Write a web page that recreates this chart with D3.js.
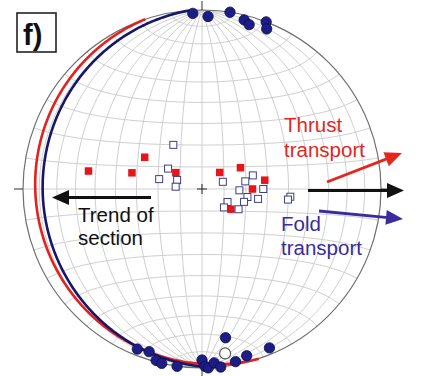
<!DOCTYPE html>
<html>
<head>
<meta charset="utf-8">
<script src="https://cdn.jsdelivr.net/npm/d3@7"></script>
<style>
  html, body { margin: 0; padding: 0; background: #fff; }
  svg { display: block; font-family: "Liberation Sans", Arial, sans-serif; }
</style>
</head>
<body>
<svg id="chart" width="427" height="376"></svg>
<script>
// Lower-hemisphere equal-area (Schmidt) net. Lines are [trend, plunge] in degrees.
const foldHinges = [
  [357, 2], [2, 4], [9, 0], [14, 3], [16, 5], [21, 0], [22, 4],
  [202, 4], [198, 5], [195, 1], [193, 0], [188, 0], [180, 5], [179, 1],
  [178, 0], [176, 3], [174, 0], [171, 17], [169, 2], [165, 4], [157, 4]
];
const meanHinge = [[172, 8]];
const thrustLineations = [
  [302, 76], [279, 36], [283, 57], [299, 60], [47, 79], [61, 70],
  [82, 61], [90, 67], [125, 74]
];
const foldVergence = [
  [327, 66], [301, 72], [283, 70], [290, 78], [275, 78],
  [71, 80], [75, 66], [80, 70], [92, 73], [90, 62], [100, 69], [100, 64],
  [117, 77], [130, 77], [119, 71], [107, 70], [95, 49], [97, 50]
];
// Planes as dip direction / dip
const planeDipDirection = [251.5, 266];
const planeDip = [8, 12];
const planeColors = ["#e3211e", "#16166a"];

const labelSection = ["Trend of", "section"];
const labelThrust = ["Thrust", "transport"];
const labelFold = ["Fold", "transport"];
const panelLabel = "f)";

const svg = d3.select("#chart");
const cx = 202, cy = 189, R = 179;
const rad = Math.PI / 180;

const proj = d3.geoAzimuthalEqualArea()
  .rotate([0, 0, 0])
  .scale(R / Math.SQRT2)
  .translate([cx, cy])
  .clipAngle(90)
  .precision(0.1);
const path = d3.geoPath(proj);

// trend/plunge -> lon/lat on a sphere viewed looking straight down
function lineToGeo([trend, plunge]) {
  const t = trend * rad, p = plunge * rad;
  const down = Math.sin(p);
  const north = Math.cos(p) * Math.cos(t);
  const east = Math.cos(p) * Math.sin(t);
  return [Math.atan2(east, down) / rad, Math.asin(Math.max(-1, Math.min(1, north))) / rad];
}

// graticule (10 degree net)
const graticule = d3.geoGraticule().extent([[-180, -90], [180, 90]]).step([10, 10]);
svg.append("path")
  .datum(graticule())
  .attr("d", path)
  .attr("fill", "none")
  .attr("stroke", "#cfcfcf")
  .attr("stroke-width", 1);

// primitive circle
svg.append("circle")
  .attr("cx", cx).attr("cy", cy).attr("r", R)
  .attr("fill", "none").attr("stroke", "#6e6e6e").attr("stroke-width", 1.2);

// ticks at N, S, W, E and centre cross
const tickLen = 9;
[[0, -1], [0, 1], [-1, 0], [1, 0]].forEach(([ux, uy]) => {
  svg.append("line")
    .attr("x1", cx + ux * R).attr("y1", cy + uy * R)
    .attr("x2", cx + ux * (R + tickLen)).attr("y2", cy + uy * (R + tickLen))
    .attr("stroke", "#333").attr("stroke-width", 1);
});
svg.append("path")
  .attr("d", `M${cx - 5},${cy}H${cx + 5}M${cx},${cy - 5}V${cy + 5}`)
  .attr("stroke", "#222").attr("stroke-width", 1);

// great circles
planeDipDirection.forEach((dd, i) => {
  const pole = lineToGeo([(dd + 180) % 360, 90 - planeDip[i]]);
  const ring = d3.geoCircle().center(pole).radius(90).precision(0.5)().coordinates[0];
  svg.append("path")
    .datum({ type: "LineString", coordinates: ring })
    .attr("d", path)
    .attr("fill", "none")
    .attr("stroke", planeColors[i])
    .attr("stroke-width", 2.6);
});

// mean hinge (open circle)
svg.selectAll("circle.mean")
  .data(meanHinge).enter().append("circle")
  .attr("class", "mean")
  .attr("cx", d => proj(lineToGeo(d))[0])
  .attr("cy", d => proj(lineToGeo(d))[1])
  .attr("r", 5.5)
  .attr("fill", "#fff").attr("stroke", "#555").attr("stroke-width", 1.2);

// fold hinges (filled navy circles)
svg.selectAll("circle.hinge")
  .data(foldHinges).enter().append("circle")
  .attr("class", "hinge")
  .attr("cx", d => proj(lineToGeo(d))[0])
  .attr("cy", d => proj(lineToGeo(d))[1])
  .attr("r", 5.2)
  .attr("fill", "#1d1d86").attr("stroke", "#0c0c4a").attr("stroke-width", 0.8);

// thrust lineations (red squares)
const rs = 7.5;
svg.selectAll("rect.thrust")
  .data(thrustLineations).enter().append("rect")
  .attr("class", "thrust")
  .attr("x", d => proj(lineToGeo(d))[0] - rs / 2)
  .attr("y", d => proj(lineToGeo(d))[1] - rs / 2)
  .attr("width", rs).attr("height", rs)
  .attr("fill", "#e8141c");

// fold vergence data (open squares)
const hs = 7;
svg.selectAll("rect.verg")
  .data(foldVergence).enter().append("rect")
  .attr("class", "verg")
  .attr("x", d => proj(lineToGeo(d))[0] - hs / 2)
  .attr("y", d => proj(lineToGeo(d))[1] - hs / 2)
  .attr("width", hs).attr("height", hs)
  .attr("fill", "#fff").attr("stroke", "#3f3f85").attr("stroke-width", 1);

// arrows
function arrow(x1, y1, x2, y2, color) {
  const a = Math.atan2(y2 - y1, x2 - x1);
  const len = 17, hw = 7.5;
  const bx = x2 - len * Math.cos(a), by = y2 - len * Math.sin(a);
  svg.append("line")
    .attr("x1", x1).attr("y1", y1).attr("x2", bx + 2 * Math.cos(a)).attr("y2", by + 2 * Math.sin(a))
    .attr("stroke", color).attr("stroke-width", 2.8);
  const px = -Math.sin(a), py = Math.cos(a);
  svg.append("path")
    .attr("d", `M${x2},${y2}L${bx + px * hw},${by + py * hw}L${bx - px * hw},${by - py * hw}Z`)
    .attr("fill", color);
}
arrow(151, 197.5, 52, 197.5, "#111");
arrow(308, 190.5, 404, 190.5, "#111");
arrow(327, 182, 402, 153, "#e3271f");
arrow(319, 211, 403, 219, "#3a2c9c");

// annotation text
function textBlock(lines, x, y0, dy, color) {
  lines.forEach((s, i) => {
    svg.append("text")
      .attr("x", x).attr("y", y0 + i * dy)
      .attr("font-size", 20.5)
      .attr("fill", color)
      .text(s);
  });
}
textBlock(labelSection, 78, 222, 22.5, "#111");
textBlock(labelThrust, 284, 132, 24.5, "#e3271f");
textBlock(labelFold, 281, 231, 24, "#3a2c9c");

// panel label
svg.append("rect")
  .attr("x", 17).attr("y", 13).attr("width", 39).attr("height", 39)
  .attr("fill", "#fff").attr("stroke", "#222").attr("stroke-width", 1.6);
svg.append("text")
  .attr("x", 23).attr("y", 45)
  .attr("font-size", 29).attr("font-weight", "bold").attr("fill", "#111")
  .text(panelLabel);
</script>
</body>
</html>
